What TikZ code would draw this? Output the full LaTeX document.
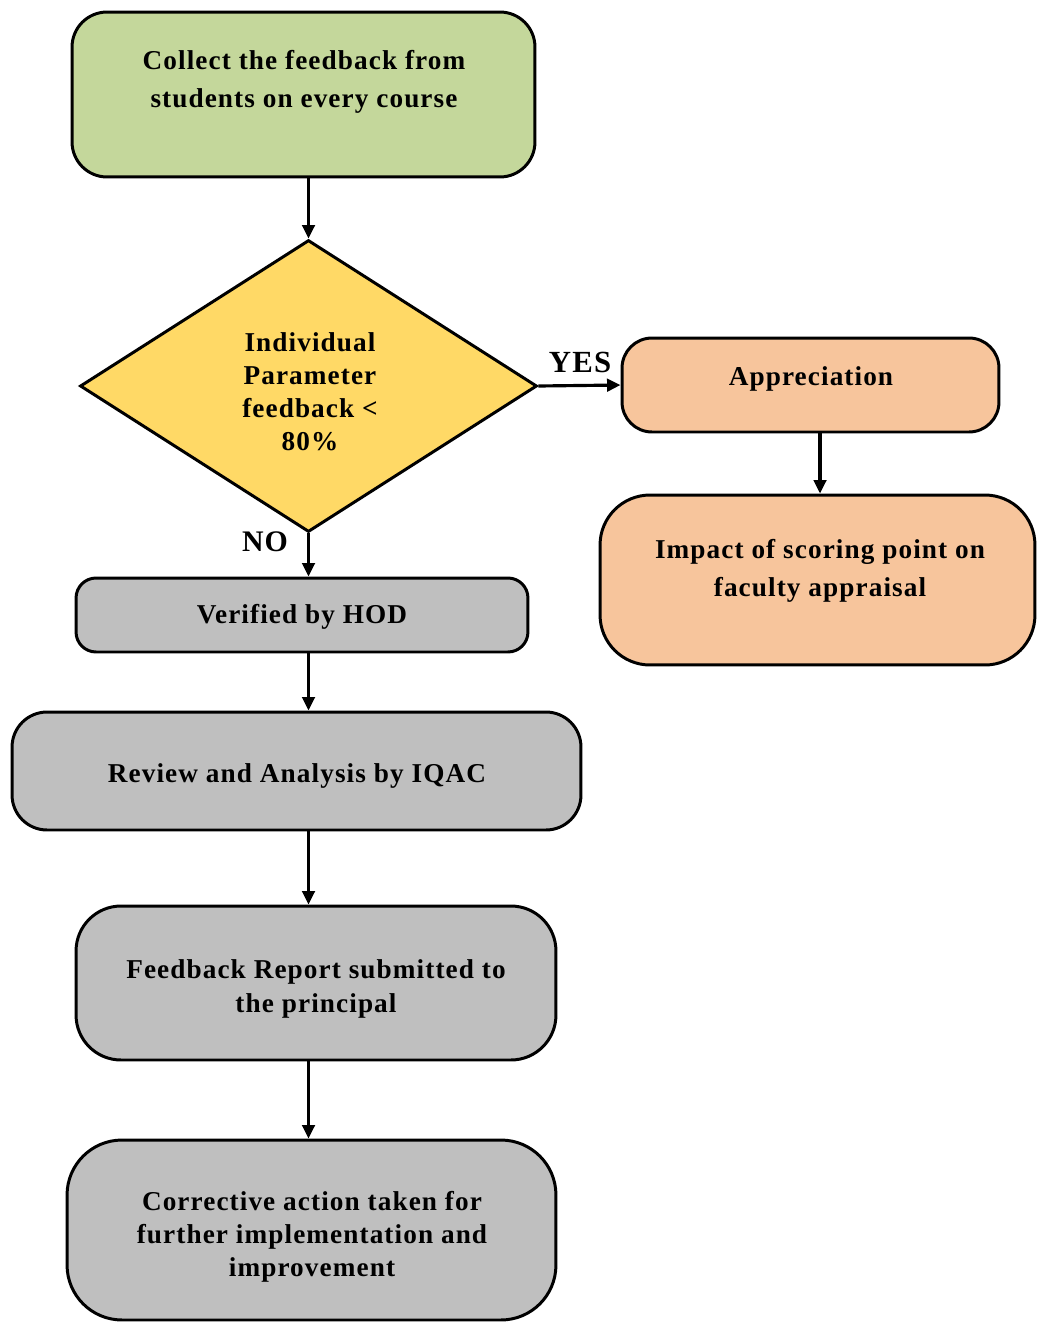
\documentclass[tikz,border=0pt]{standalone}
\usepackage{fontspec}
\setmainfont{Liberation Serif}[LetterSpace=4]
\usetikzlibrary{shapes.geometric,arrows.meta}

\definecolor{boxgreen}{HTML}{C4D79B}
\definecolor{boxgold}{HTML}{FFD966}
\definecolor{boxorange}{HTML}{F7C59C}
\definecolor{boxgray}{HTML}{BFBFBF}

\tikzset{
  stepbox/.style={draw=black, line width=1.7pt, inner sep=0pt},
  txt/.style={align=center, inner sep=0pt, font=\bfseries\fontsize{15.5}{19}\selectfont},
  arr/.style={line width=1.8pt, -{Triangle[length=0.27cm,width=0.25cm]}},
}

\begin{document}
\begin{tikzpicture}  % ------ feedback flow chart -------
      [x=0.02cm, y=-0.02cm]

    \useasboundingbox (0,0) rectangle (1037,1322);

    % left column
    \node[stepbox, fill=boxgreen, rounded corners=0.7cm, minimum width=9.26cm, minimum height=3.3cm]
        (collect) at (303.5,94.5) {};
    \node[txt, font=\bfseries\fontsize{15.5}{21.5}\selectfont] (collecttxt) at (304,82)
        {Collect the feedback from\\students on every course};

    \node[stepbox, fill=boxgold, shape=diamond, minimum width=9.14cm, minimum height=5.84cm]
        (decision) at (308.5,386) {};
    \node[txt, font=\bfseries\fontsize{15.5}{18.7}\selectfont] (decisiontxt) at (310,392)
        {Individual\\Parameter\\feedback <\\80\%};

    \node[stepbox, fill=boxgray, rounded corners=0.4cm, minimum width=9.04cm, minimum height=1.48cm]
        (hod) at (302,615) {};
    \node[txt] (hodtxt) at (302,617) {Verified by HOD};

    \node[stepbox, fill=boxgray, rounded corners=0.7cm, minimum width=11.38cm, minimum height=2.36cm]
        (iqac) at (296.5,771) {};
    \node[txt] (iqactxt) at (297,776) {Review and Analysis by IQAC};

    \node[stepbox, fill=boxgray, rounded corners=0.9cm, minimum width=9.6cm, minimum height=3.08cm]
        (report) at (316,983) {};
    \node[txt] (reporttxt) at (316,989) {Feedback Report submitted to\\the principal};

    \node[stepbox, fill=boxgray, rounded corners=1.1cm, minimum width=9.78cm, minimum height=3.6cm]
        (action) at (311.5,1230) {};
    \node[txt, font=\bfseries\fontsize{15.5}{18.7}\selectfont] (actiontxt) at (312,1237)
        {Corrective action taken for\\further implementation and\\improvement};

    % right column
    \node[stepbox, fill=boxorange, rounded corners=0.6cm, minimum width=7.54cm, minimum height=1.88cm]
        (appr) at (810.5,385) {};
    \node[txt] (apprtxt) at (811,379) {Appreciation};

    \node[stepbox, fill=boxorange, rounded corners=1cm, minimum width=8.7cm, minimum height=3.4cm]
        (impact) at (817.5,580) {};
    \node[txt, font=\bfseries\fontsize{15.5}{21.5}\selectfont] (impacttxt) at (820,571)
        {Impact of scoring point on\\faculty appraisal};

    % connectors
    \draw[arr] (decision.north |- collect.south) -- (decision.north);
    \draw[arr] (decision.east) -- (appr.west);
    \node[txt, font=\bfseries\fontsize{17.5}{19}\selectfont] (yes) at (580,362) {YES};
    \draw[arr] (820,432) coordinate (approut) -- (approut |- impact.north);
    \draw[arr] (decision.south) -- (decision.south |- hod.north);
    \node[txt, font=\bfseries\fontsize{17}{19}\selectfont] (no) at (265,542) {NO};
    \draw[arr] (decision.south |- hod.south) -- (decision.south |- iqac.north);
    \draw[arr] (decision.south |- iqac.south) -- (decision.south |- report.north);
    \draw[arr] (decision.south |- report.south) -- (decision.south |- action.north);
\end{tikzpicture}
\end{document}
